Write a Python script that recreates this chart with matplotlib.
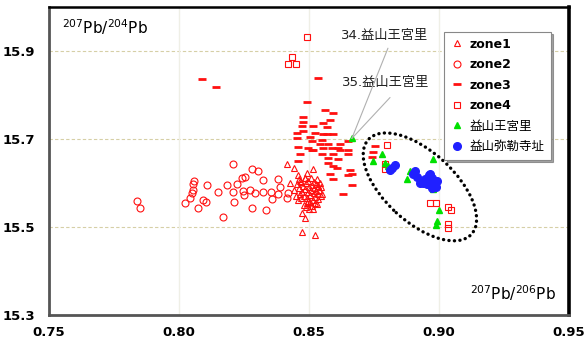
import numpy as np
import matplotlib
matplotlib.use("Agg")
import matplotlib.pyplot as plt
from matplotlib.patches import Ellipse
from matplotlib.transforms import ScaledTranslation

plt.rcParams['font.family'] = ['DejaVu Sans', 'Noto Sans CJK JP']

# --- data (207Pb/206Pb, 207Pb/204Pb) ---
zone1_x = [0.8415, 0.8442, 0.8492, 0.8515, 0.8458, 0.8485, 0.8427, 0.8465, 0.8531, 0.8535,
           0.8550, 0.8496, 0.8485, 0.8473, 0.8515, 0.8473, 0.8523,
           0.8455, 0.8462, 0.8468, 0.8474, 0.8478, 0.8482, 0.8486, 0.8490, 0.8493, 0.8496,
           0.8500, 0.8503, 0.8506, 0.8509, 0.8512, 0.8515, 0.8518, 0.8521, 0.8524, 0.8527,
           0.8530, 0.8533, 0.8536, 0.8540, 0.8444, 0.8450, 0.8458, 0.8466, 0.8480, 0.8488,
           0.8497, 0.8508, 0.8519, 0.8528, 0.8545, 0.8548, 0.8502, 0.8512, 0.8470, 0.8492,
           0.8535, 0.8525, 0.8484, 0.8460, 0.8543]
zone1_y = [15.643, 15.634, 15.623, 15.632, 15.618, 15.611, 15.600, 15.605, 15.609, 15.593,
           15.575, 15.559, 15.520, 15.531, 15.541, 15.488, 15.481,
           15.598, 15.589, 15.602, 15.580, 15.593, 15.571, 15.586, 15.600, 15.566, 15.579,
           15.591, 15.557, 15.573, 15.584, 15.596, 15.562, 15.577, 15.588, 15.569, 15.581,
           15.552, 15.593, 15.575, 15.585, 15.583, 15.570, 15.561, 15.575, 15.550, 15.545,
           15.605, 15.612, 15.602, 15.598, 15.570, 15.590, 15.540, 15.548, 15.565, 15.555,
           15.563, 15.555, 15.612, 15.610, 15.600]

zone2_x = [0.7838, 0.7850, 0.8023, 0.8042, 0.8050, 0.8054, 0.8058, 0.8054, 0.8092, 0.8104,
           0.8073, 0.8108, 0.8150, 0.8169, 0.8185, 0.8208, 0.8208, 0.8223, 0.8212, 0.8242,
           0.8254, 0.8246, 0.8250, 0.8273, 0.8281, 0.8281, 0.8304, 0.8323, 0.8323, 0.8354,
           0.8358, 0.8335, 0.8381, 0.8381, 0.8388, 0.8419, 0.8415, 0.8292]
zone2_y = [15.559, 15.543, 15.554, 15.566, 15.577, 15.598, 15.605, 15.584, 15.561, 15.557,
           15.543, 15.595, 15.579, 15.522, 15.595, 15.643, 15.579, 15.598, 15.557, 15.611,
           15.614, 15.582, 15.573, 15.584, 15.632, 15.543, 15.627, 15.607, 15.579, 15.579,
           15.563, 15.538, 15.609, 15.575, 15.591, 15.577, 15.566, 15.577]

zone3_x = [0.8088, 0.8142, 0.8535, 0.8492, 0.8477, 0.8477, 0.8562, 0.8592, 0.8581, 0.8554,
           0.8473, 0.8515, 0.8569, 0.8454, 0.8477, 0.8523, 0.8554, 0.8569, 0.8592, 0.8454,
           0.8504, 0.8512, 0.8550, 0.8542, 0.8573, 0.8619, 0.8650, 0.8458, 0.8496, 0.8512,
           0.8554, 0.8588, 0.8612, 0.8619, 0.8650, 0.8550, 0.8592, 0.8465, 0.8515, 0.8650,
           0.8573, 0.8612, 0.8458, 0.8573, 0.8608, 0.8658, 0.8581, 0.8665, 0.8592, 0.8631,
           0.8665, 0.8650, 0.8592, 0.8746, 0.8742, 0.8754]
zone3_y = [15.835, 15.819, 15.838, 15.783, 15.749, 15.739, 15.765, 15.758, 15.742, 15.735,
           15.730, 15.730, 15.726, 15.714, 15.717, 15.714, 15.712, 15.710, 15.710, 15.701,
           15.705, 15.696, 15.698, 15.689, 15.689, 15.689, 15.696, 15.682, 15.680, 15.675,
           15.680, 15.680, 15.680, 15.675, 15.675, 15.666, 15.666, 15.666, 15.675, 15.666,
           15.657, 15.655, 15.650, 15.646, 15.634, 15.630, 15.621, 15.621, 15.609, 15.575,
           15.595, 15.618, 15.639, 15.671, 15.659, 15.685]

zone4_x = [0.8492, 0.8419, 0.8435, 0.8450, 0.8800, 0.8792, 0.8792, 0.8965, 0.8988, 0.9035,
           0.9046, 0.9035, 0.9035]
zone4_y = [15.931, 15.870, 15.886, 15.870, 15.687, 15.643, 15.632, 15.554, 15.554, 15.545,
           15.538, 15.506, 15.497]

wanggung_x = [0.8665, 0.8781, 0.8746, 0.8792, 0.8804, 0.8877, 0.8888, 0.8927, 0.8977, 0.8958,
              0.8977, 0.9000, 0.8992, 0.8988, 0.8915, 0.8954]
wanggung_y = [15.701, 15.666, 15.650, 15.646, 15.639, 15.609, 15.627, 15.605, 15.655, 15.600,
              15.586, 15.538, 15.513, 15.504, 15.616, 15.616]

mireuk_x = [0.8819, 0.8831, 0.8812, 0.8908, 0.8900, 0.8915, 0.8938, 0.8946, 0.8965, 0.8973,
            0.8977, 0.8985, 0.8988, 0.8965, 0.8954, 0.8992, 0.8973, 0.8962, 0.8927]
mireuk_y = [15.634, 15.641, 15.630, 15.627, 15.621, 15.614, 15.600, 15.609, 15.621, 15.611,
            15.605, 15.598, 15.591, 15.600, 15.598, 15.605, 15.589, 15.618, 15.600]

LABELS = ['zone1', 'zone2', 'zone3', 'zone4', '益山王宮里', '益山弥勒寺址']
X_TICKS = [0.75, 0.80, 0.85, 0.90, 0.95]
Y_TICKS = [15.3, 15.5, 15.7, 15.9]

RED = '#ff1010'

fig = plt.figure(figsize=(5.84, 3.42), dpi=100)
ax = fig.add_axes([0.084, 0.079, 0.890, 0.901])

ax.plot(zone1_x, zone1_y, ls='none', marker='^', ms=5, mfc='none', mec=RED, mew=0.8, label=LABELS[0])
ax.plot(zone2_x, zone2_y, ls='none', marker='o', ms=5, mfc='none', mec=RED, mew=0.8, label=LABELS[1])
ax.plot(zone3_x, zone3_y, ls='none', marker='_', ms=6, mec=RED, mew=2.0, label=LABELS[2])
ax.plot(zone4_x, zone4_y, ls='none', marker='s', ms=5, mfc='none', mec=RED, mew=0.8, label=LABELS[3])
ax.plot(wanggung_x, wanggung_y, ls='none', marker='^', ms=5, color='#00e000', label=LABELS[4])
ax.plot(mireuk_x, mireuk_y, ls='none', marker='o', ms=5.5, color='#2020ff', label=LABELS[5])

# dotted ellipse around the Iksan group
ell = Ellipse((0, 0), 1.40, 0.70, angle=-42.6, fill=False, ec='black', lw=2.4,
              ls=(0, (0.05, 1.6)), capstyle='round',
              transform=fig.dpi_scale_trans + ScaledTranslation(0.8927, 15.591, ax.transData))
ax.add_patch(ell)

# annotations
ax.text(0.8790, 15.936, '34.益山王宮里', fontsize=9.5, ha='center', va='center', color='#222222')
ax.text(0.8796, 15.829, '35.益山王宮里', fontsize=9.5, ha='center', va='center', color='#222222')
ax.annotate('', xy=(wanggung_x[0], wanggung_y[0]), xytext=(0.8804, 15.906),
            arrowprops=dict(arrowstyle='-', color='#b0b0b0', lw=0.8, shrinkA=0, shrinkB=0))
ax.annotate('', xy=(wanggung_x[0], wanggung_y[0]), xytext=(0.8812, 15.794),
            arrowprops=dict(arrowstyle='-', color='#b0b0b0', lw=0.8, shrinkA=0, shrinkB=0))

ax.text(0.025, 0.935, r'$^{207}$Pb/$^{204}$Pb', transform=ax.transAxes, fontsize=11,
        ha='left', va='center')
ax.text(0.975, 0.07, r'$^{207}$Pb/$^{206}$Pb', transform=ax.transAxes, fontsize=11,
        ha='right', va='center')

ax.set_xlim(0.75, 0.95)
ax.set_ylim(15.3, 16.0)
ax.set_xticks(X_TICKS)
ax.set_yticks(Y_TICKS)
ax.set_xticklabels([f'{v:.2f}' for v in X_TICKS], fontweight='bold', fontsize=9.5)
ax.set_yticklabels([f'{v:.1f}' for v in Y_TICKS], fontweight='bold', fontsize=9.5)
ax.tick_params(axis='both', length=0)
ax.tick_params(axis='x', pad=8)
ax.tick_params(axis='y', pad=10)

for y in [15.5, 15.7, 15.9]:
    ax.axhline(y, color='#d6cfa6', lw=0.8, ls=(0, (3, 2)), zorder=0)
for x in [0.80, 0.85, 0.90]:
    ax.axvline(x, color='#efefe6', lw=1.0, zorder=0)

for side in ['left', 'bottom']:
    ax.spines[side].set_color('#555555')
    ax.spines[side].set_linewidth(2.0)
ax.spines['top'].set_color('black')
ax.spines['top'].set_linewidth(1.8)
ax.spines['right'].set_color('black')
ax.spines['right'].set_linewidth(2.6)

leg = ax.legend(loc='upper right', bbox_to_anchor=(0.977, 0.94), fontsize=9,
                fancybox=False, shadow=True, edgecolor='#888888', framealpha=1,
                labelspacing=0.6, handlelength=1.0, handletextpad=0.5, borderpad=0.5)
leg.get_frame().set_linewidth(0.8)
for t in leg.get_texts()[:4]:
    t.set_fontweight('bold')

fig.savefig('out.png', dpi=100)
